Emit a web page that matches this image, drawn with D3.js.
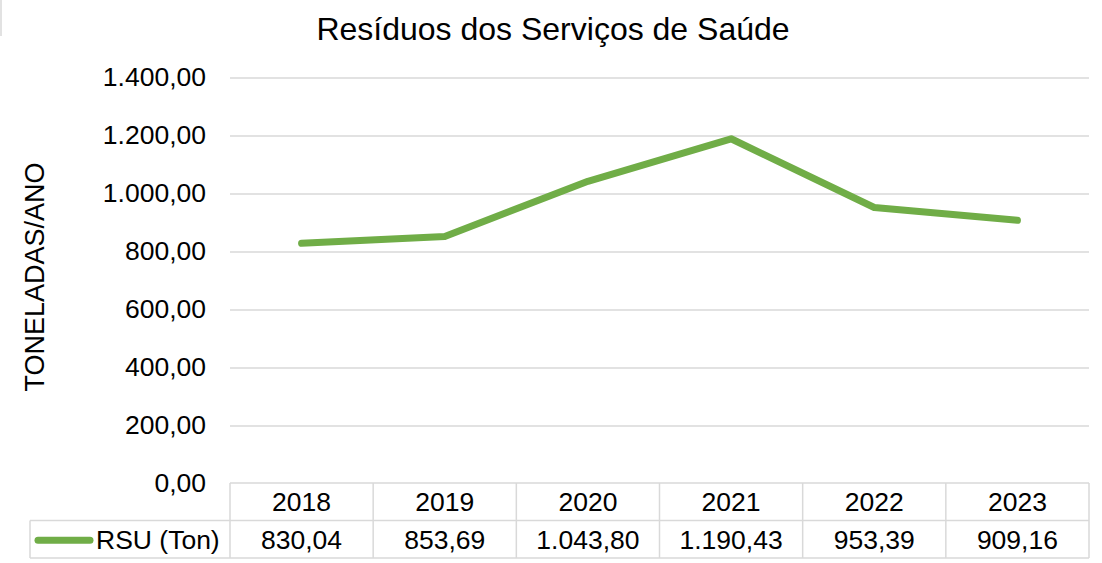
<!DOCTYPE html>
<html>
<head>
<meta charset="utf-8">
<script src="https://cdn.jsdelivr.net/npm/d3@7"></script>
<style>
  body { margin: 0; background: #fff; }
  text { font-family: "Liberation Sans", Arial, sans-serif; fill: #000; }
</style>
</head>
<body>
<div id="chart"></div>
<script>
const years = ["2018", "2019", "2020", "2021", "2022", "2023"];
const values = [830.04, 853.69, 1043.80, 1190.43, 953.39, 909.16];
const seriesName = "RSU (Ton)";
const yTicks = [0, 200, 400, 600, 800, 1000, 1200, 1400];

const width = 1102, height = 563;
const plot = { left: 230, right: 1089, top: 78, bottom: 484 };
const rowH = 37.5;
const fs = "26.5px";

const ptBR = d3.formatLocale({ decimal: ",", thousands: ".", grouping: [3], currency: ["R$", ""] });
const fmt = ptBR.format(",.2f");

const svg = d3.select("#chart").append("svg")
  .attr("width", width).attr("height", height);

// faint border remnant top-left
svg.append("line").attr("x1", 1).attr("x2", 1).attr("y1", 0).attr("y2", 36)
  .attr("stroke", "#d9d9d9").attr("stroke-width", 1.5);

const x = d3.scaleBand().domain(years).range([plot.left, plot.right]);
const y = d3.scaleLinear().domain([0, 1400]).range([plot.bottom, plot.top]);

// title
svg.append("text")
  .attr("x", 553).attr("y", 40)
  .attr("text-anchor", "middle")
  .style("font-size", "32px")
  .text("Resíduos dos Serviços de Saúde");

// y axis title
svg.append("text")
  .attr("transform", "translate(44,277) rotate(-90)")
  .attr("text-anchor", "middle")
  .style("font-size", "27px")
  .text("TONELADAS/ANO");

// gridlines
svg.append("g").selectAll("line")
  .data(yTicks.filter(d => d > 0))
  .join("line")
  .attr("x1", plot.left).attr("x2", plot.right)
  .attr("y1", d => y(d)).attr("y2", d => y(d))
  .attr("stroke", "#d9d9d9").attr("stroke-width", 1.3);

// y tick labels
svg.append("g").selectAll("text")
  .data(yTicks)
  .join("text")
  .attr("x", 206)
  .attr("y", d => y(d) - 1)
  .attr("dy", "0.35em")
  .attr("text-anchor", "end")
  .style("font-size", fs)
  .text(d => fmt(d));

// line
const line = d3.line()
  .x((d, i) => x(years[i]) + x.bandwidth() / 2)
  .y(d => y(d));

svg.append("path")
  .datum(values)
  .attr("d", line)
  .attr("fill", "none")
  .attr("stroke", "#70AD47")
  .attr("stroke-width", 7)
  .attr("stroke-linecap", "round")
  .attr("stroke-linejoin", "round");

// data table
const table = svg.append("g");
const t0 = plot.bottom - 1;
const t1 = t0 + rowH;
const t2 = t1 + rowH;
const legendLeft = 30;
const gridColor = "#d9d9d9";

// horizontal rules
table.append("line").attr("x1", plot.left).attr("x2", plot.right).attr("y1", t0).attr("y2", t0)
  .attr("stroke", gridColor).attr("stroke-width", 1.5);
table.append("line").attr("x1", legendLeft).attr("x2", plot.right).attr("y1", t1).attr("y2", t1)
  .attr("stroke", gridColor).attr("stroke-width", 1.5);
table.append("line").attr("x1", legendLeft).attr("x2", plot.right).attr("y1", t2).attr("y2", t2)
  .attr("stroke", gridColor).attr("stroke-width", 1.5);
// vertical rules
table.append("line").attr("x1", legendLeft).attr("x2", legendLeft).attr("y1", t1).attr("y2", t2)
  .attr("stroke", gridColor).attr("stroke-width", 1.5);
table.selectAll(".vr")
  .data(years.map(d => x(d)).concat([plot.right]))
  .join("line")
  .attr("class", "vr")
  .attr("x1", d => d).attr("x2", d => d)
  .attr("y1", t0).attr("y2", t2)
  .attr("stroke", gridColor).attr("stroke-width", 1.5);

// header years
table.selectAll(".yr")
  .data(years)
  .join("text")
  .attr("class", "yr")
  .attr("x", d => x(d) + x.bandwidth() / 2)
  .attr("y", (t0 + t1) / 2)
  .attr("dy", "0.35em")
  .attr("text-anchor", "middle")
  .style("font-size", fs)
  .text(d => d);

// values
table.selectAll(".val")
  .data(values)
  .join("text")
  .attr("class", "val")
  .attr("x", (d, i) => x(years[i]) + x.bandwidth() / 2)
  .attr("y", (t1 + t2) / 2)
  .attr("dy", "0.35em")
  .attr("text-anchor", "middle")
  .style("font-size", fs)
  .text(d => fmt(d));

// legend key
table.append("line")
  .attr("x1", 38).attr("x2", 90)
  .attr("y1", (t1 + t2) / 2 + 1).attr("y2", (t1 + t2) / 2 + 1)
  .attr("stroke", "#70AD47").attr("stroke-width", 7)
  .attr("stroke-linecap", "round");
table.append("text")
  .attr("x", 96)
  .attr("y", (t1 + t2) / 2)
  .attr("dy", "0.35em")
  .style("font-size", fs)
  .text(seriesName);
</script>
</body>
</html>
